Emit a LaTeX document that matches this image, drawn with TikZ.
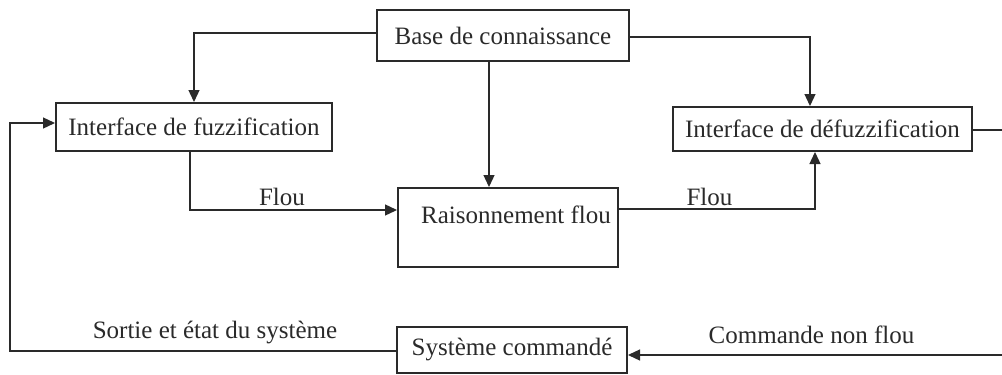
\documentclass[tikz,border=0pt]{standalone}
\usepackage{fontspec}
\setmainfont{Liberation Serif}
\usetikzlibrary{arrows.meta,calc}
\definecolor{ink}{HTML}{2A2A2A}
\begin{document}
\begin{tikzpicture}[x=1pt,y=-1pt,
  font=\fontsize{25}{30}\selectfont,
  box/.style={draw=ink,line width=2pt,rectangle,inner sep=0pt,text=ink},
  arr/.style={draw=ink,line width=1.3pt,-{Triangle[length=12pt,width=11pt]}},
  lbl/.style={text=ink,inner sep=0pt,anchor=base}]
\useasboundingbox (0,0) rectangle (1002,375);
\fill[white] (0,0) rectangle (1002,375);
\clip (0,0) rectangle (1002,375);

\node[box,minimum width=252pt,minimum height=51pt] (base) at (503,35.5) {Base de connaissance};
\node[box,minimum width=276pt,minimum height=48pt] (fuzz) at (194,127) {Interface de fuzzification};
\node[box,minimum width=299pt,minimum height=44pt] (defuzz) at (822.5,129) {Interface de défuzzification};
\node[box,minimum width=220pt,minimum height=79pt] (rais) at (508,227.5) {};
\node[lbl,anchor=base west] (raist) at (421,223) {Raisonnement flou};
\node[box,minimum width=230pt,minimum height=46pt] (sys) at (512,350) {Système commandé};

\node[lbl] (flou1) at (282,205) {Flou};
\node[lbl] (flou2) at (709.5,205) {Flou};
\node[lbl] (sortie) at (215,338) {Sortie et état du système};
\node[lbl] (cmd) at (811.5,343) {Commande non flou};

\coordinate (rc) at (1006,130);
\coordinate (lc) at (10,123);

\draw[arr] ([yshift=2.5pt]base.west) -| (fuzz.north);
\draw[arr] ([xshift=-14pt]base.south) -- ([xshift=-19pt]rais.north);
\draw[arr] ([yshift=-1.5pt]base.east) -| ([xshift=-12.5pt]defuzz.north);
\draw[arr] ([xshift=-4pt]fuzz.south) |- ([yshift=17.5pt]rais.west);
\draw[arr] ([yshift=18.5pt]rais.east) -| ([xshift=-7.5pt]defuzz.south);
\draw[arr] ([yshift=-1pt]defuzz.east) -- (rc) |- ([yshift=-5pt]sys.east);
\draw[arr] ([yshift=-1pt]sys.west) -| (lc) -- (lc -| fuzz.west);
\end{tikzpicture}
\end{document}
